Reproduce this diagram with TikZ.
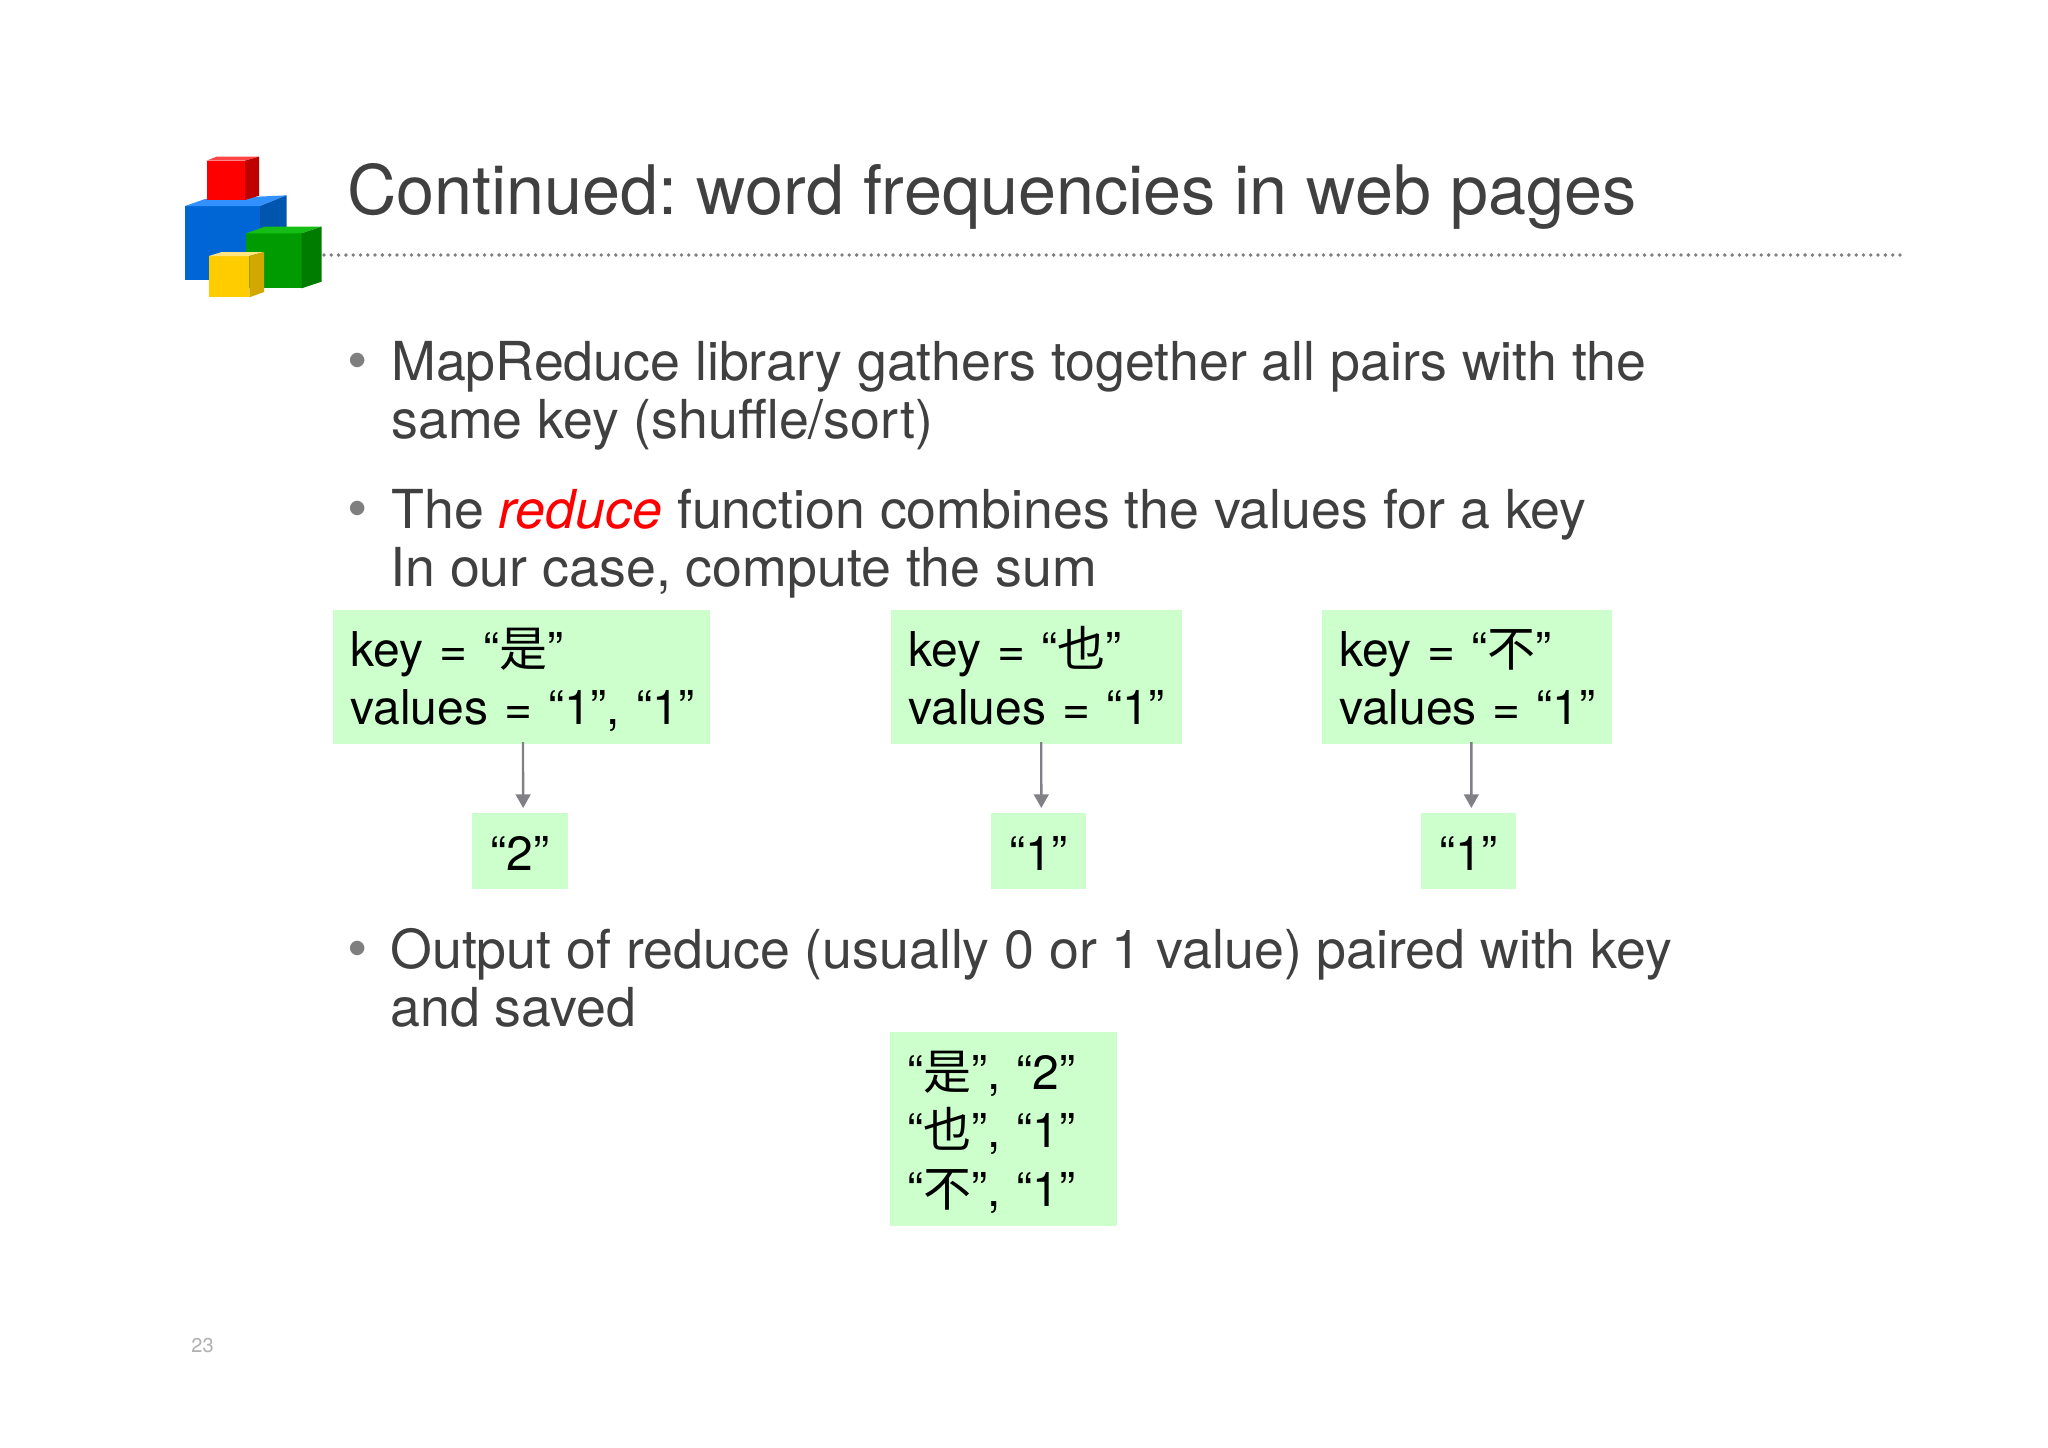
\documentclass[tikz,border=0pt]{standalone}
\usepackage{fontspec}
\usetikzlibrary{arrows.meta}
\setmainfont{TeX Gyre Heros}
\newfontfamily\cjk{Noto Sans CJK SC}
\frenchspacing
\definecolor{inkgray}{HTML}{404040}
\definecolor{bulletgray}{HTML}{7F7F7F}
\definecolor{arrowgray}{HTML}{808086}
\definecolor{boxgreen}{HTML}{CCFFCC}
\definecolor{numgray}{HTML}{B0B0B0}
\newcommand{\topstrut}{\rule{0pt}{25pt}}
\newcommand{\botstrut}{\rule[-6pt]{0pt}{6pt}}
\tikzset{
  titletext/.style={anchor=base west,inner sep=0pt,text=inkgray,font=\fontsize{34.15}{40}\selectfont},
  bodytext/.style={anchor=base west,inner sep=0pt,text=inkgray,font=\fontsize{26.85}{29}\selectfont},
  bulletmark/.style={anchor=base west,inner sep=0pt,text=bulletgray,font=\fontsize{29}{29}\selectfont},
  greenbox/.style n args={3}{anchor=north west,fill=boxgreen,inner ysep=0pt,inner xsep=#3,outer sep=0pt,
    text width={#1-2*#3},minimum height=#2,align=left,text=black,font=\fontsize{24}{29.1}\selectfont},
  valuebox/.style n args={2}{anchor=north west,fill=boxgreen,inner sep=0pt,outer sep=0pt,
    minimum width=#1,minimum height=#2,align=center,text=black,font=\fontsize{24}{29.1}\selectfont},
  linkarrow/.style={draw=arrowgray,line width=1.2pt,-{Triangle[width=7.3pt,length=6.8pt]}},
}
\begin{document}
\begin{tikzpicture}[x=0.5pt,y=-0.5pt]
\useasboundingbox[fill=white] (0,0) rectangle (2048,1447);
% logo
\begin{scope}[shift={(160,130)},x=0.16667pt,y=-0.16667pt]
\fill[fill={rgb,255:red,0;green,102;blue,214}] (75,228) rectangle (300,450);
\fill[fill={rgb,255:red,51;green,145;blue,255}] (75,228) -- (135,207) -- (380,196) -- (300,228) -- cycle;
\fill[fill={rgb,255:red,0;green,85;blue,175}] (300,228) -- (380,196) -- (380,420) -- (300,450) -- cycle;
\fill[fill={rgb,255:red,255;green,0;blue,0}] (140,92) rectangle (255,210);
\fill[fill={rgb,255:red,255;green,70;blue,70}] (140,92) -- (170,80) -- (297,80) -- (255,92) -- cycle;
\fill[fill={rgb,255:red,190;green,0;blue,0}] (255,92) -- (297,80) -- (297,197) -- (255,210) -- cycle;
\fill[fill={rgb,255:red,0;green,155;blue,0}] (258,310) rectangle (425,475);
\fill[fill={rgb,255:red,20;green,190;blue,20}] (258,310) -- (315,290) -- (485,290) -- (425,310) -- cycle;
\fill[fill={rgb,255:red,0;green,125;blue,0}] (425,310) -- (485,290) -- (485,455) -- (425,475) -- cycle;
\fill[fill={rgb,255:red,255;green,204;blue,0}] (147,378) rectangle (268,502);
\fill[fill={rgb,255:red,255;green,228;blue,130}] (147,378) -- (185,366) -- (312,366) -- (268,378) -- cycle;
\fill[fill={rgb,255:red,210;green,168;blue,0}] (268,378) -- (312,366) -- (312,486) -- (268,502) -- cycle;
\end{scope}
% title and rule
\node[titletext] (title) at (347,214) {Continued: word frequencies in web pages};
\coordinate (ruleL) at (324,255);
\coordinate (ruleR) at (1901,255);
\draw[bulletgray,line width=1.9pt,line cap=round,dash pattern=on 0pt off 3.648pt] (ruleL) -- (ruleR);
% body
\node[bulletmark] (b1) at (347,380) {•};
\node[bodytext] (l1) at (391,380) {MapReduce library gathers together all pairs with the};
\node[bodytext] (l2) at (391,438) {same key (shuffle/sort)};
\node[bulletmark] (b2) at (347,528) {•};
\node[bodytext] (l3) at (391,528) {The {\color{red}\itshape reduce} function combines the values for a key};
\node[bodytext] (l4) at (390,586) {In our case, compute the sum};
\node[bulletmark] (b3) at (347,968) {•};
\node[bodytext] (l5) at (390,968) {Output of reduce (usually 0 or 1 value) paired with key};
\node[bodytext] (l6) at (390,1026) {and saved};
% boxes
\node[greenbox={188.35pt}{67.25pt}{8.5pt}] (k1) at (333.3,609.5) {\topstrut key = “{\cjk 是}”\\\mbox{values = “1”, “1”}\botstrut};
\node[greenbox={145.35pt}{67.25pt}{8.5pt}] (k2) at (891.3,609.5) {\topstrut key = “{\cjk 也}”\\\mbox{values = “1”}\botstrut};
\node[greenbox={145pt}{67.25pt}{8.5pt}] (k3) at (1322,609.5) {\topstrut key = “{\cjk 不}”\\\mbox{values = “1”}\botstrut};
\node[valuebox={47.85pt}{38pt}] (v1) at (472.3,813) {\topstrut “2”\botstrut};
\node[valuebox={47.5pt}{38pt}] (v2) at (991,813) {\topstrut “1”\botstrut};
\node[valuebox={47.65pt}{38pt}] (v3) at (1420.7,813) {\topstrut “1”\botstrut};
\node[greenbox={113.5pt}{96.85pt}{8.75pt}] (out) at (890,1032) {\topstrut “{\cjk 是}”, “2”\\“{\cjk 也}”, “1”\\“{\cjk 不}”, “1”\botstrut};
% arrows
\draw[linkarrow] ([xshift=0.65pt,yshift=1pt]k1.south) -- ([xshift=1.5pt,yshift=2.5pt]v1.north);
\draw[linkarrow] ([xshift=2.3pt,yshift=1pt]k2.south) -- ([xshift=1.4pt,yshift=2.5pt]v2.north);
\draw[linkarrow] ([xshift=2.15pt,yshift=1pt]k3.south) -- ([xshift=1.5pt,yshift=2.5pt]v3.north);
% page number
\node[anchor=base west,inner sep=0pt,text=numgray,font=\fontsize{10}{12}\selectfont] (pg) at (191,1352) {23};
\end{tikzpicture}
\end{document}
